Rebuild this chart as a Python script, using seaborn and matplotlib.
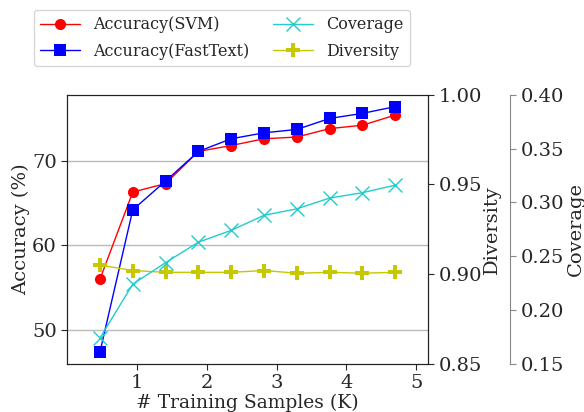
import matplotlib
matplotlib.use("Agg")
import matplotlib.pyplot as plt
import seaborn as sns
import pandas as pd

samples   = [0.47, 0.94, 1.41, 1.88, 2.35, 2.82, 3.29, 3.76, 4.23, 4.70]
acc_svm   = [56.0, 66.3, 67.3, 71.1, 71.8, 72.6, 72.8, 73.8, 74.2, 75.4]
acc_ft    = [47.4, 64.2, 67.6, 71.1, 72.6, 73.3, 73.7, 75.0, 75.6, 76.4]
coverage  = [0.174, 0.224, 0.244, 0.263, 0.274, 0.288, 0.294, 0.304, 0.309, 0.316]
diversity = [0.905, 0.902, 0.901, 0.901, 0.901, 0.902, 0.9005, 0.901, 0.9005, 0.901]

df = pd.DataFrame({"samples": samples, "svm": acc_svm, "ft": acc_ft,
                   "cov": coverage, "div": diversity})

sns.set_style("white")
plt.rcParams["font.family"] = ["DejaVu Serif"]
plt.rcParams["axes.edgecolor"] = "#222222"

fig, ax = plt.subplots(figsize=(5.84, 4.12), dpi=100)
fig.subplots_adjust(left=0.115, right=0.733, top=0.77, bottom=0.117)

# accuracy on the main axis
sns.lineplot(data=df, x="samples", y="svm", ax=ax, color="red", marker="o",
             markersize=8, markeredgewidth=0, lw=1, legend=False)
sns.lineplot(data=df, x="samples", y="ft", ax=ax, color="blue", marker="s",
             markersize=8, markeredgewidth=0, lw=1, legend=False)
ax.set_xlim(0, 5.17)
ax.set_ylim(46, 77.8)
ax.set_yticks([50, 60, 70])
ax.set_xticks([1, 2, 3, 4, 5])
ax.yaxis.grid(True, color="#bbbbbb", lw=1)
ax.set_axisbelow(True)
ax.set_xlabel("# Training Samples (K)", fontsize=13.5, labelpad=1)
ax.set_ylabel("Accuracy (%)", fontsize=14, labelpad=1)
ax.tick_params(labelsize=14, length=4, left=True, bottom=True, direction="out")

# diversity on the first twin
ax_div = ax.twinx()
sns.lineplot(data=df, x="samples", y="div", ax=ax_div, color="#c8c800", marker="P",
             markersize=10, markeredgewidth=0, lw=1, legend=False)
ax_div.set_ylim(0.85, 1.00)
ax_div.set_yticks([0.85, 0.90, 0.95, 1.00])
ax_div.set_ylabel("Diversity", fontsize=14, labelpad=1)
ax_div.tick_params(labelsize=14, length=4, right=True, direction="out")

# coverage on an offset twin
ax_cov = ax.twinx()
sns.lineplot(data=df, x="samples", y="cov", ax=ax_cov, color="#22cccc", marker="x",
             markersize=10, markeredgewidth=1, markeredgecolor="#22cccc", lw=1,
             legend=False)
ax_cov.spines["right"].set_position(("axes", 1.227))
ax_cov.spines["right"].set_color("#888888")
for s in ["left", "top", "bottom"]:
    ax_cov.spines[s].set_visible(False)
ax_cov.set_ylim(0.15, 0.40)
ax_cov.set_yticks([0.15, 0.20, 0.25, 0.30, 0.35, 0.40])
ax_cov.set_ylabel("Coverage", fontsize=14, labelpad=2)
ax_cov.tick_params(labelsize=14, length=4, right=True, direction="out", color="#888888")

handles = [ax.lines[0], ax.lines[1], ax_cov.lines[0], ax_div.lines[0]]
labels = ["Accuracy(SVM)", "Accuracy(FastText)", "Coverage", "Diversity"]
fig.legend(handles, labels, loc="upper center", bbox_to_anchor=(0.38, 0.995),
           ncol=2, fontsize=11.5, frameon=True, handlelength=2.5, columnspacing=1.5,
           labelspacing=0.6)

fig.savefig("out.png", dpi=100)
